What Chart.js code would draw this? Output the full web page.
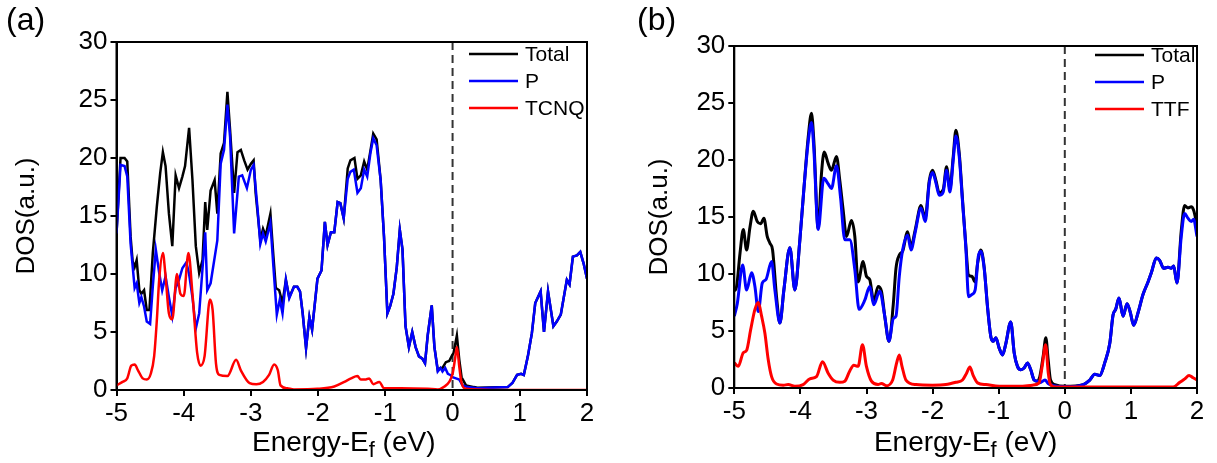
<!DOCTYPE html>
<html>
<head>
<meta charset="utf-8">
<script src="https://cdn.jsdelivr.net/npm/chart.js@4.4.1/dist/chart.umd.min.js"></script>
<style>
  html, body { margin: 0; padding: 0; background: #fff; }
  #wrap { position: relative; width: 1217px; height: 463px; }
  .panel { position: absolute; top: 0; height: 463px; }
</style>
</head>
<body>
<div id="wrap">
  <div class="panel" style="left:0;width:608px"><canvas id="ca" width="608" height="463"></canvas></div>
  <div class="panel" style="left:608px;width:609px"><canvas id="cb" width="609" height="463"></canvas></div>
</div>
<script>
// ticks
const xTicks = [-5, -4, -3, -2, -1, 0, 1, 2]
const yTicks = [0, 5, 10, 15, 20, 25, 30]

// panel (a): P + TCNQ
const totalA_E = [-5.0, -4.94, -4.88, -4.84, -4.79, -4.76, -4.73, -4.70, -4.66, -4.63, -4.59, -4.55, -4.51, -4.46, -4.40, -4.35, -4.31, -4.27, -4.22, -4.17, -4.12, -4.07, -4.02, -3.98, -3.92, -3.87, -3.82, -3.77, -3.72, -3.68, -3.65, -3.60, -3.54, -3.50, -3.45, -3.40, -3.35, -3.31, -3.25, -3.20, -3.15, -3.10, -3.05, -3.00, -2.96, -2.93, -2.86, -2.82, -2.78, -2.71, -2.665, -2.63, -2.58, -2.53, -2.48, -2.43, -2.36, -2.31, -2.27, -2.23, -2.18, -2.13, -2.09, -2.01, -1.95, -1.90, -1.86, -1.81, -1.76, -1.71, -1.67, -1.62, -1.56, -1.52, -1.46, -1.415, -1.365, -1.315, -1.27, -1.22, -1.18, -1.13, -1.07, -1.02, -0.97, -0.93, -0.88, -0.83, -0.785, -0.745, -0.70, -0.65, -0.60, -0.55, -0.50, -0.45, -0.41, -0.37, -0.31, -0.27, -0.22, -0.18, -0.15, -0.10, -0.05, -0.015, 0.015, 0.064, 0.10, 0.134, 0.20, 0.32, 0.37, 0.82, 0.89, 0.96, 1.02, 1.06, 1.12, 1.18, 1.23, 1.31, 1.36, 1.42, 1.50, 1.55, 1.61, 1.70, 1.74, 1.79, 1.85, 1.90, 1.95, 2.0]
const totalA = [13.5, 20.0, 20.0, 19.7, 13.2, 11.1, 10.6, 11.2, 8.6, 8.3, 8.6, 6.9, 6.9, 11.8, 15.8, 18.7, 20.5, 19.3, 15.2, 12.4, 18.5, 17.4, 18.4, 19.3, 22.6, 18.1, 12.4, 10.1, 11.2, 16.2, 13.8, 17.2, 18.1, 15.2, 20.4, 21.3, 25.7, 22.4, 17.0, 20.5, 20.7, 19.8, 19.0, 19.5, 19.8, 17.0, 12.9, 13.9, 13.3, 15.2, 11.5, 8.8, 8.6, 7.5, 9.5, 8.0, 8.9, 8.9, 8.5, 6.6, 3.6, 6.3, 5.2, 9.6, 10.3, 14.5, 12.5, 13.6, 13.6, 16.2, 16.1, 14.8, 19.1, 19.8, 20.0, 18.2, 18.5, 19.7, 19.0, 20.7, 22.1, 21.6, 18.1, 13.2, 6.6, 7.2, 8.3, 10.6, 13.8, 12.1, 5.5, 3.7, 5.0, 3.7, 2.9, 2.7, 2.3, 4.7, 7.3, 3.7, 1.7, 1.9, 1.9, 2.4, 2.5, 2.9, 3.2, 4.7, 2.6, 1.1, 0.4, 0.25, 0.2, 0.25, 0.6, 1.3, 1.4, 1.3, 2.9, 4.9, 7.5, 8.5, 5.0, 8.5, 5.5, 5.9, 6.5, 9.5, 9.1, 11.5, 11.6, 11.9, 10.9, 9.6]

const pA_E = [-5.0, -4.94, -4.88, -4.84, -4.79, -4.73, -4.70, -4.66, -4.63, -4.59, -4.55, -4.50, -4.46, -4.415, -4.365, -4.32, -4.27, -4.22, -4.17, -4.12, -4.07, -4.02, -3.96, -3.92, -3.87, -3.82, -3.77, -3.68, -3.65, -3.60, -3.50, -3.45, -3.40, -3.35, -3.31, -3.25, -3.18, -3.13, -3.06, -3.00, -2.96, -2.90, -2.86, -2.82, -2.78, -2.71, -2.665, -2.615, -2.57, -2.53, -2.48, -2.43, -2.36, -2.31, -2.27, -2.23, -2.18, -2.13, -2.09, -2.01, -1.95, -1.90, -1.86, -1.81, -1.76, -1.71, -1.67, -1.62, -1.56, -1.52, -1.47, -1.415, -1.365, -1.315, -1.27, -1.22, -1.18, -1.13, -1.07, -1.02, -0.97, -0.93, -0.88, -0.83, -0.785, -0.745, -0.70, -0.65, -0.60, -0.55, -0.50, -0.45, -0.41, -0.37, -0.31, -0.27, -0.22, -0.18, -0.15, -0.11, -0.07, -0.035, 0.0, 0.05, 0.10, 0.15, 0.22, 0.37, 0.82, 0.89, 0.96, 1.02, 1.06, 1.12, 1.18, 1.23, 1.31, 1.36, 1.42, 1.50, 1.55, 1.61, 1.70, 1.74, 1.79, 1.85, 1.90, 1.95, 2.0]
const pA = [13.5, 19.4, 19.3, 18.4, 12.6, 8.8, 9.2, 7.5, 8.0, 7.2, 5.9, 5.7, 8.9, 12.1, 10.1, 8.6, 9.8, 8.0, 6.4, 8.8, 9.5, 10.5, 11.0, 10.0, 8.0, 5.3, 6.6, 13.6, 8.6, 9.2, 12.9, 19.5, 20.7, 24.6, 21.8, 13.5, 18.4, 18.5, 17.4, 19.0, 19.4, 15.5, 12.6, 13.5, 12.8, 14.4, 10.6, 6.5, 7.8, 6.6, 9.5, 7.9, 8.9, 8.9, 8.5, 6.6, 3.6, 6.3, 5.2, 9.6, 10.3, 14.5, 12.5, 13.6, 13.6, 16.2, 16.1, 14.8, 18.2, 18.8, 19.0, 17.0, 17.4, 19.0, 18.4, 20.5, 21.7, 21.1, 18.1, 13.2, 6.6, 7.2, 8.3, 10.6, 13.8, 12.1, 5.5, 3.7, 5.0, 3.7, 2.9, 2.7, 2.3, 4.7, 7.3, 3.7, 1.6, 1.9, 1.6, 1.9, 1.4, 1.3, 1.1, 1.0, 0.9, 0.4, 0.25, 0.15, 0.25, 0.6, 1.3, 1.4, 1.3, 2.9, 4.9, 7.5, 8.5, 5.0, 8.5, 5.5, 5.9, 6.5, 9.5, 9.1, 11.5, 11.6, 11.9, 10.9, 9.6]

const tcnqA_E = [-5.0, -4.91, -4.84, -4.78, -4.73, -4.68, -4.61, -4.55, -4.49, -4.44, -4.40, -4.365, -4.31, -4.27, -4.22, -4.17, -4.10, -4.05, -4.00, -3.93, -3.87, -3.80, -3.75, -3.69, -3.61, -3.57, -3.52, -3.47, -3.35, -3.22, -3.15, -3.02, -2.92, -2.82, -2.73, -2.655, -2.60, -2.56, -2.46, -2.36, -2.01, -1.76, -1.61, -1.51, -1.415, -1.365, -1.29, -1.24, -1.18, -1.09, -1.02, -0.77, -0.37, -0.22, -0.12, -0.05, 0.0, 0.035, 0.064, 0.10, 0.134, 0.20, 0.60, 2.0]
const tcnqA = [0.4, 0.7, 1.0, 2.1, 2.2, 1.7, 1.0, 0.9, 1.4, 2.9, 6.0, 9.5, 11.8, 9.8, 6.6, 6.1, 10.0, 8.3, 8.1, 11.8, 8.3, 3.2, 2.1, 2.9, 7.8, 6.9, 2.3, 1.3, 1.2, 2.6, 1.7, 0.6, 0.5, 0.7, 1.3, 2.2, 1.7, 0.4, 0.15, 0.05, 0.1, 0.3, 0.7, 1.0, 1.2, 0.9, 0.9, 1.0, 0.5, 0.7, 0.15, 0.15, 0.1, 0.05, 0.3, 0.7, 1.4, 2.6, 3.7, 2.0, 0.6, 0.1, 0.0, 0.0]

// panel (b): P + TTF
const totalB_E = [-5.0, -4.965, -4.914, -4.864, -4.814, -4.763, -4.713, -4.653, -4.602, -4.552, -4.502, -4.461, -4.421, -4.361, -4.31, -4.25, -4.159, -4.084, -4.008, -3.948, -3.882, -3.832, -3.797, -3.731, -3.681, -3.64, -3.58, -3.53, -3.454, -3.404, -3.353, -3.303, -3.228, -3.177, -3.127, -3.051, -3.001, -2.951, -2.89, -2.825, -2.774, -2.724, -2.66, -2.594, -2.554, -2.50, -2.453, -2.378, -2.327, -2.262, -2.176, -2.111, -2.05, -2.0, -1.95, -1.899, -1.839, -1.789, -1.738, -1.688, -1.648, -1.597, -1.547, -1.496, -1.456, -1.406, -1.356, -1.32, -1.27, -1.22, -1.169, -1.119, -1.083, -1.043, -0.993, -0.943, -0.892, -0.817, -0.766, -0.716, -0.666, -0.615, -0.565, -0.515, -0.464, -0.414, -0.378, -0.327, -0.287, -0.252, -0.216, -0.15, 0.0, 0.277, 0.378, 0.453, 0.529, 0.604, 0.68, 0.73, 0.77, 0.82, 0.881, 0.942, 0.992, 1.042, 1.108, 1.183, 1.259, 1.309, 1.385, 1.435, 1.495, 1.561, 1.611, 1.647, 1.697, 1.762, 1.813, 1.863, 1.913, 1.949, 2.0]
const totalB = [8.5, 8.9, 11.8, 13.9, 12.1, 14.1, 15.5, 14.6, 14.4, 14.9, 13.3, 12.7, 12.1, 8.0, 5.7, 8.6, 12.3, 8.6, 13.0, 17.4, 22.0, 24.1, 21.7, 14.0, 18.8, 20.7, 19.7, 19.1, 20.3, 18.2, 15.6, 13.3, 14.7, 13.3, 9.3, 11.1, 9.8, 9.5, 7.6, 8.9, 8.5, 6.3, 4.1, 7.4, 10.5, 11.7, 12.0, 13.7, 12.4, 13.9, 16.0, 14.9, 18.2, 19.1, 18.2, 17.1, 17.4, 19.4, 17.5, 20.3, 22.6, 20.6, 16.5, 12.4, 9.9, 9.8, 9.3, 10.9, 12.1, 10.6, 7.1, 4.5, 4.1, 4.4, 3.5, 2.9, 3.9, 5.8, 3.1, 1.9, 1.6, 1.75, 2.2, 1.6, 0.7, 0.6, 1.0, 2.8, 4.4, 2.5, 0.7, 0.3, 0.15, 0.3, 0.7, 1.2, 1.1, 2.2, 3.9, 6.4, 6.9, 7.9, 6.3, 7.4, 6.6, 5.5, 6.6, 8.2, 9.3, 10.1, 11.4, 11.2, 10.5, 10.6, 10.5, 10.7, 9.2, 13.8, 16.0, 15.8, 15.9, 15.6, 14.3]

const pB_E = [-5.0, -4.955, -4.874, -4.814, -4.738, -4.688, -4.637, -4.577, -4.522, -4.436, -4.386, -4.31, -4.25, -4.159, -4.084, -4.008, -3.948, -3.882, -3.832, -3.797, -3.731, -3.646, -3.58, -3.53, -3.454, -3.394, -3.328, -3.253, -3.177, -3.112, -3.026, -2.951, -2.89, -2.80, -2.724, -2.66, -2.594, -2.554, -2.504, -2.453, -2.378, -2.327, -2.262, -2.176, -2.111, -2.05, -2.0, -1.95, -1.899, -1.839, -1.789, -1.738, -1.688, -1.648, -1.597, -1.547, -1.496, -1.456, -1.406, -1.356, -1.31, -1.27, -1.22, -1.169, -1.119, -1.083, -1.043, -0.993, -0.943, -0.892, -0.817, -0.766, -0.716, -0.666, -0.615, -0.565, -0.515, -0.464, -0.414, -0.378, -0.30, -0.252, -0.17, 0.0, 0.277, 0.378, 0.453, 0.529, 0.604, 0.68, 0.73, 0.77, 0.82, 0.881, 0.942, 0.992, 1.042, 1.108, 1.183, 1.259, 1.309, 1.385, 1.435, 1.495, 1.561, 1.611, 1.647, 1.697, 1.762, 1.813, 1.863, 1.913, 1.949, 2.0]
const pB = [6.3, 7.4, 10.8, 8.6, 10.1, 8.9, 6.7, 9.2, 9.5, 11.1, 8.6, 5.7, 8.6, 12.3, 8.6, 13.0, 17.4, 21.6, 23.3, 21.0, 13.9, 18.4, 17.9, 17.5, 19.5, 16.8, 13.0, 13.0, 10.4, 6.9, 7.7, 8.9, 7.3, 8.5, 6.3, 4.1, 6.1, 6.3, 9.8, 12.1, 13.4, 12.1, 13.7, 15.8, 14.6, 18.0, 18.9, 18.0, 16.9, 17.2, 19.1, 17.2, 20.0, 22.1, 20.3, 16.3, 12.2, 8.0, 8.2, 8.6, 11.5, 12.0, 10.5, 7.1, 4.5, 4.1, 4.4, 3.5, 2.9, 3.9, 5.8, 3.1, 1.9, 1.6, 1.75, 2.2, 1.6, 0.7, 0.6, 0.45, 0.7, 0.4, 0.2, 0.1, 0.3, 0.7, 1.2, 1.1, 2.2, 3.9, 6.4, 6.9, 7.9, 6.3, 7.4, 6.6, 5.5, 6.6, 8.2, 9.3, 10.1, 11.4, 11.2, 10.5, 10.6, 10.5, 10.7, 9.2, 13.3, 15.3, 14.9, 14.6, 14.8, 13.3]

const ttfB_E = [-5.0, -4.94, -4.864, -4.814, -4.753, -4.688, -4.637, -4.587, -4.537, -4.487, -4.436, -4.361, -4.26, -4.184, -4.084, -3.958, -3.857, -3.757, -3.666, -3.58, -3.505, -3.404, -3.328, -3.253, -3.192, -3.127, -3.061, -3.001, -2.925, -2.825, -2.774, -2.70, -2.604, -2.544, -2.504, -2.463, -2.403, -2.252, -2.0, -1.8, -1.648, -1.547, -1.486, -1.436, -1.386, -1.32, -1.194, -0.993, -0.69, -0.49, -0.389, -0.34, -0.29, -0.25, -0.216, -0.13, 1.64, 1.74, 1.815, 1.88, 1.94, 2.0]
const ttfB = [2.2, 1.9, 3.1, 3.3, 5.1, 6.9, 7.5, 6.3, 4.8, 2.5, 1.0, 0.35, 0.25, 0.3, 0.15, 0.3, 0.8, 1.0, 2.3, 1.3, 0.7, 0.5, 0.6, 1.5, 2.0, 1.9, 3.8, 1.9, 0.6, 0.3, 0.4, 0.2, 0.7, 2.2, 2.9, 1.9, 0.7, 0.3, 0.25, 0.3, 0.5, 0.7, 1.3, 1.85, 1.1, 0.45, 0.3, 0.15, 0.15, 0.25, 0.45, 2.0, 3.8, 1.3, 0.3, 0.08, 0.08, 0.5, 0.8, 1.1, 0.9, 0.7]

const FONT = "'Liberation Sans', Arial, sans-serif"
Chart.defaults.font.family = FONT
Chart.defaults.color = '#000'

const pts = (xs, ys) => xs.map((x, i) => ({ x: x, y: ys[i] }))

const series = (label, xs, ys, color, order, smooth, width) => ({
    label: label,
    data: pts(xs, ys),
    borderColor: color,
    backgroundColor: color,
    borderWidth: width,
    pointRadius: 0,
    tension: 0,
    cubicInterpolationMode: smooth ? 'monotone' : 'default',
    order: order
})

// draws frame, dashed E_f line, legend and titles
const decor = p => ({
    id: 'decor',
    beforeDatasetsDraw(chart) {
        const { ctx, chartArea: a, scales } = chart
        const x0 = scales.x.getPixelForValue(0)
        ctx.save()
        ctx.strokeStyle = '#333'
        ctx.lineWidth = 2
        ctx.setLineDash([8, 5])
        ctx.beginPath()
        ctx.moveTo(x0, a.top)
        ctx.lineTo(x0, a.bottom)
        ctx.stroke()
        ctx.restore()
    },
    afterDatasetsDraw(chart) {
        const { ctx, chartArea: a } = chart
        ctx.save()
        ctx.strokeStyle = '#000'
        ctx.lineWidth = 2
        ctx.strokeRect(a.left, a.top, a.right - a.left, a.bottom - a.top)
        ctx.restore()
    },
    afterDraw(chart) {
        const { ctx, chartArea: a } = chart
        ctx.save()
        // legend
        ctx.font = '21px ' + FONT
        ctx.textBaseline = 'middle'
        ctx.textAlign = 'left'
        chart.data.datasets.forEach((d, i) => {
            const y = a.top + p.legTop + i * 27
            ctx.strokeStyle = d.borderColor
            ctx.lineWidth = 2.5
            ctx.beginPath()
            ctx.moveTo(a.right + p.legX, y)
            ctx.lineTo(a.right + p.legX + 49, y)
            ctx.stroke()
            ctx.fillStyle = '#000'
            ctx.fillText(d.label, a.right + p.legX + 56, y + 1)
        })
        // panel label
        ctx.font = '32px ' + FONT
        ctx.fillText(p.tag, p.tagX, 21)
        // y title
        ctx.save()
        ctx.translate(a.left - p.yTitle, (a.top + a.bottom) / 2)
        ctx.rotate(-Math.PI / 2)
        ctx.textAlign = 'center'
        ctx.font = '26px ' + FONT
        ctx.fillText('DOS(a.u.)', 0, 0)
        ctx.restore()
        // x title with subscript
        const big = '28px ' + FONT, small = '22px ' + FONT
        ctx.textBaseline = 'alphabetic'
        ctx.font = big
        const w1 = ctx.measureText('Energy-E').width
        const w3 = ctx.measureText(' (eV)').width
        ctx.font = small
        const w2 = ctx.measureText('f').width
        let x = (a.left + a.right) / 2 + p.xTitleShift - (w1 + w2 + w3) / 2
        const base = 451
        ctx.font = big
        ctx.fillText('Energy-E', x, base)
        x += w1
        ctx.font = small
        ctx.fillText('f', x, base + 6)
        x += w2
        ctx.font = big
        ctx.fillText(' (eV)', x, base)
        ctx.restore()
    }
})

const makeChart = (id, sets, p) => new Chart(document.getElementById(id), {
    type: 'line',
    data: { datasets: sets },
    options: {
        responsive: false,
        animation: false,
        devicePixelRatio: 1,
        layout: { padding: { left: 0, right: p.padRight, top: p.top, bottom: 0 } },
        plugins: { legend: { display: false }, tooltip: { enabled: false } },
        scales: {
            x: {
                type: 'linear', min: xTicks[0], max: xTicks[xTicks.length - 1],
                afterBuildTicks: s => { s.ticks = xTicks.map(v => ({ value: v })) },
                afterFit: s => { s.height = p.xHeight },
                ticks: { font: { size: 26 }, color: '#000', padding: 2, autoSkip: false, maxRotation: 0 },
                grid: { drawOnChartArea: false, drawTicks: true, tickLength: 6, color: '#000', lineWidth: 2 },
                border: { display: true, color: '#000', width: 2 }
            },
            y: {
                type: 'linear', min: yTicks[0], max: yTicks[yTicks.length - 1],
                afterBuildTicks: s => { s.ticks = yTicks.map(v => ({ value: v })) },
                afterFit: s => { s.width = p.yWidth },
                ticks: { font: { size: 26 }, color: '#000', padding: 3 },
                grid: { drawOnChartArea: false, drawTicks: true, tickLength: 6, color: '#000', lineWidth: 2 },
                border: { display: true, color: '#000', width: 2 }
            }
        }
    },
    plugins: [decor(p)]
})

makeChart('ca', [
    series('Total', totalA_E, totalA, '#000000', 3, false, 2.5),
    series('P', pA_E, pA, '#0000ff', 2, false, 2.5),
    series('TCNQ', tcnqA_E, tcnqA, '#ff0000', 1, true, 2.5)
], { padRight: 21, top: 42, xHeight: 73, yWidth: 116.5, legX: -118, legTop: 12, tag: '(a)', tagX: 6, yTitle: 90, xTitleShift: -8 })

makeChart('cb', [
    series('Total', totalB_E, totalB, '#000000', 3, true, 3),
    series('P', pB_E, pB, '#0000ff', 2, true, 3),
    series('TTF', ttfB_E, ttfB, '#ff0000', 1, true, 3)
], { padRight: 20, top: 46, xHeight: 75, yWidth: 126.3, legX: -102, legTop: 9, tag: '(b)', tagX: 29, yTitle: 74, xTitleShift: 0 })
</script>
</body>
</html>
